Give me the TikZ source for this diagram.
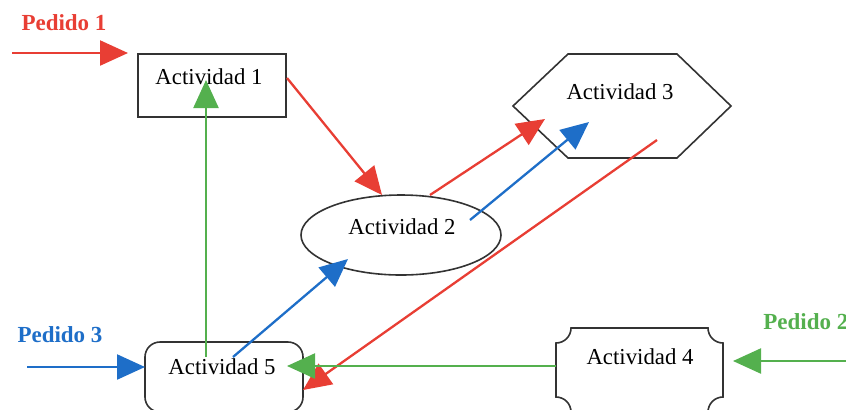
\documentclass[tikz,border=0pt]{standalone}
\usepackage{fontspec}
\setmainfont{Liberation Serif}
\usetikzlibrary{arrows.meta}
\definecolor{pedred}{RGB}{232,62,52}
\definecolor{pedblue}{RGB}{30,110,200}
\definecolor{pedgreen}{RGB}{84,176,78}
\begin{document}
\begin{tikzpicture}[x=0.5pt,y=-0.5pt,
  shapeline/.style={draw=black!80, line width=0.8pt},
  acttext/.style={font=\fontsize{11.4}{13}\selectfont, inner sep=0pt},
  pedido/.style={font=\bfseries\fontsize{11.5}{13}\selectfont, inner sep=0pt},
  flow/.style={line width=1.15pt, -{Triangle[length=14pt,width=12.5pt]}}]
\useasboundingbox (0,0) rectangle (846,409);
\clip (0,0) rectangle (846,409);

% activity shapes
\draw[shapeline] (138,54) rectangle (286,117);
\node[acttext] (t1) at (209,77) {Actividad 1};

\draw[shapeline] (401,235) ellipse [x radius=50pt, y radius=20pt];
\node[acttext] (t2) at (402,227) {Actividad 2};

\draw[shapeline] (568,54) -- (677,54) -- (731,106) -- (677,158) -- (568,158) -- (513,106) -- cycle;
\node[acttext] (t3) at (620,92) {Actividad 3};

\draw[shapeline] (571,328) -- (708,328)
  arc[start angle=180, end angle=270, radius=7.5pt] -- (723,397)
  arc[start angle=90, end angle=180, radius=7.5pt] -- (571,412)
  arc[start angle=0, end angle=90, radius=7.5pt] -- (556,343)
  arc[start angle=270, end angle=360, radius=7.5pt] -- cycle;
\node[acttext] (t4) at (640,357) {Actividad 4};

\draw[shapeline, rounded corners=7.5pt] (145,342) rectangle (303,412);
\node[acttext] (t5) at (222,367) {Actividad 5};

% order labels
\node[pedido, text=pedred] (p1) at (64,23) {Pedido 1};
\node[pedido, text=pedblue] (p3) at (60,335) {Pedido 3};
\node[pedido, text=pedgreen, anchor=west] (p2) at (763,322) {Pedido 2};

% connector end points
\coordinate (p1s) at (12,53);   \coordinate (p1e) at (128,53);
\coordinate (a1o) at (287,78);  \coordinate (a2i) at (382,195);
\coordinate (a2o) at (430,195); \coordinate (a3i) at (545,119);
\coordinate (a3o) at (657,140); \coordinate (a5r) at (303,390);
\coordinate (p3s) at (27,367);  \coordinate (p3e) at (145,367);
\coordinate (a5o) at (233,357); \coordinate (a2b) at (348,259);
\coordinate (a2r) at (470,220); \coordinate (a3b) at (589,122);
\coordinate (p2s) at (846,361); \coordinate (p2e) at (733,361);
\coordinate (a4o) at (556,366); \coordinate (a5i) at (287,366);
\coordinate (a5t) at (206,357); \coordinate (a1b) at (206,80);

% order 1 (red)
\draw[flow, pedred] (p1s) -- (p1e);
\draw[flow, pedred] (a1o) -- (a2i);
\draw[flow, pedred] (a2o) -- (a3i);
\draw[flow, pedred] (a3o) -- (a5r);

% order 3 (blue)
\draw[flow, pedblue] (p3s) -- (p3e);
\draw[flow, pedblue] (a5o) -- (a2b);
\draw[flow, pedblue] (a2r) -- (a3b);

% order 2 (green)
\draw[flow, pedgreen] (p2s) -- (p2e);
\draw[flow, pedgreen] (a4o) -- (a5i);
\draw[flow, pedgreen] (a5t) -- (a1b);
\end{tikzpicture}
\end{document}
